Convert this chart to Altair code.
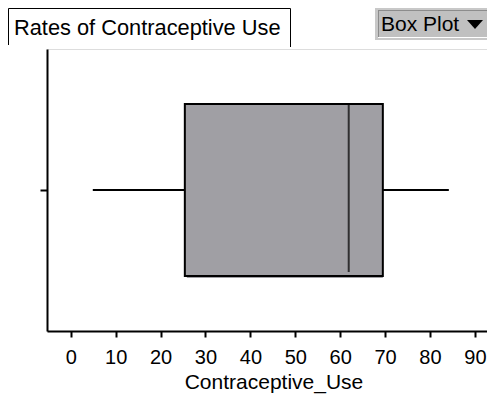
import altair as alt
import pandas as pd

# ---- data ----
variable = ["Contraceptive_Use"]
minimum = [4.9]
q1 = [25.4]
median = [61.9]
q3 = [69.5]
maximum = [84.2]
x_ticks = [0, 10, 20, 30, 40, 50, 60, 70, 80, 90]
x_domain = [-5.3, 92.7]

title_text = "Rates of Contraceptive Use"
button_text = "Box Plot"

df = pd.DataFrame({
    "var": variable,
    "min": minimum,
    "q1": q1,
    "median": median,
    "q3": q3,
    "max": maximum,
})

FONT = "Liberation Sans"
BOX_FILL = "#a09fa4"

xscale = alt.Scale(domain=x_domain, nice=False, zero=False)
yscale = alt.Scale(paddingInner=0, paddingOuter=0)

x_axis = alt.Axis(
    values=x_ticks, title="Contraceptive_Use", grid=False,
    domainColor="black", domainWidth=2, tickColor="black", tickWidth=2,
    tickSize=6, labelFontSize=20, labelColor="black", labelFont=FONT,
    labelBaseline="alphabetic", labelPadding=26, labelFlush=False,
    labelOverlap=False, titleFont=FONT, titleFontSize=21,
    titleFontWeight="normal", titleColor="black", titleBaseline="alphabetic",
    titleX=226.5, titleY=57,
)
y_axis = alt.Axis(
    title=None, labels=False, grid=False, domainColor="black", domainWidth=2,
    tickColor="black", tickWidth=2, tickSize=7,
)

base = alt.Chart(df)

shadow = base.mark_bar(size=172, color=BOX_FILL, xOffset=2, yOffset=2).encode(
    x=alt.X("q1:Q", scale=xscale, axis=x_axis),
    x2="q3:Q",
    y=alt.Y("var:N", scale=yscale, axis=y_axis),
)
box = base.mark_bar(size=172, color=BOX_FILL, stroke="black", strokeWidth=2).encode(
    x=alt.X("q1:Q", scale=xscale),
    x2="q3:Q",
    y=alt.Y("var:N", scale=yscale),
)
whisk_lo = base.mark_rule(color="black", strokeWidth=2).encode(
    x=alt.X("min:Q", scale=xscale), x2="q1:Q", y=alt.Y("var:N", scale=yscale)
)
whisk_hi = base.mark_rule(color="black", strokeWidth=2).encode(
    x=alt.X("q3:Q", scale=xscale), x2="max:Q", y=alt.Y("var:N", scale=yscale)
)
med = base.mark_tick(color="black", thickness=2, size=168, yOffset=-2, orient="vertical").encode(
    x=alt.X("median:Q", scale=xscale), y=alt.Y("var:N", scale=yscale)
)

# ---- decorations: title tab and the "Box Plot" button ----
one = alt.Chart(alt.Data(values=[{"t": title_text, "b": button_text}]))

def hline(x1, x2, y, color="black", w=1):
    return one.mark_rule(color=color, strokeWidth=w).encode(
        x=alt.value(x1), x2=alt.value(x2), y=alt.value(y))

def vline(x, y1, y2, color="black", w=1):
    return one.mark_rule(color=color, strokeWidth=w).encode(
        x=alt.value(x), y=alt.value(y1), y2=alt.value(y2))

title_box = [
    hline(-38.5, 243.5, -40.5),
    vline(-38.5, -40.5, -4),
    vline(243.5, -40.5, -2),
]
title_mark = one.mark_text(align="left", baseline="alphabetic", font=FONT,
                           fontSize=21.8, color="black").encode(
    x=alt.value(-33), y=alt.value(-14), text="t:N")

btn_outer = one.mark_rect(color="#c8c8c8").encode(
    x=alt.value(328), x2=alt.value(443), y=alt.value(-41), y2=alt.value(-9))
btn_inner = one.mark_rect(color="#c0c0c0").encode(
    x=alt.value(331), x2=alt.value(441), y=alt.value(-39), y2=alt.value(-12))
btn_lines = [
    hline(331, 441, -38.5, color="#8c8c8c"),
    vline(331.5, -39, -12, color="#8c8c8c"),
    hline(331, 442, -11.5, color="white"),
    vline(441.5, -39, -11, color="white"),
]
btn_text = one.mark_text(align="left", baseline="alphabetic", font=FONT,
                         fontSize=21, color="black").encode(
    x=alt.value(334), y=alt.value(-18), text="b:N")
btn_tri = one.mark_point(shape="M-1,-0.55L1,-0.55L0,0.55Z", size=256, filled=True,
                         color="black", opacity=1).encode(
    x=alt.value(428), y=alt.value(-24.5))

chart = alt.layer(
    shadow, box, whisk_lo, whisk_hi, med,
    *title_box, title_mark,
    btn_outer, btn_inner, *btn_lines, btn_text, btn_tri,
).properties(
    width=440, height=282,
    autosize=alt.AutoSizeParams(type="none"),
    padding={"left": 39, "top": 41, "right": 0, "bottom": 63},
    background="white",
).configure_view(stroke=None).configure(font=FONT)

chart.save("out.html", embed_options={"renderer": "svg", "actions": False})
